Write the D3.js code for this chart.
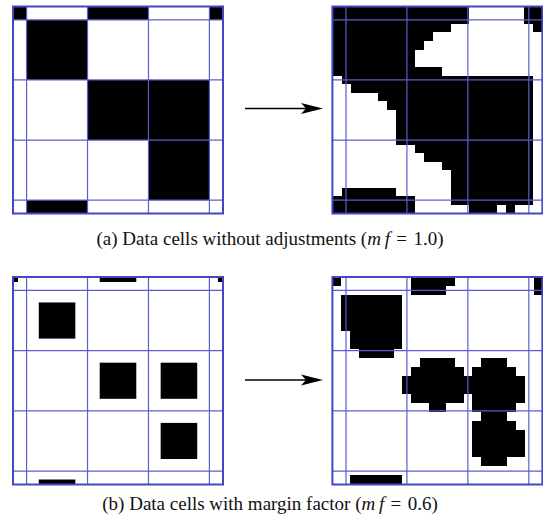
<!DOCTYPE html>
<html>
<head>
<meta charset="utf-8">
<script src="https://cdn.jsdelivr.net/npm/d3@7"></script>
<style>
  body { margin: 0; background: #fff; }
  svg { display: block; }
</style>
</head>
<body>
<div id="vis"></div>
<script>
const WIDTH = 543;
const HEIGHT = 521;

// data cells seen through the window, outer ring only partly visible
const dataCells = [
  [1, 0, 1, 0, 1],
  [0, 1, 0, 0, 0],
  [0, 0, 1, 1, 0],
  [0, 0, 0, 1, 0],
  [0, 1, 0, 0, 0],
];
const marginFactors = [1.0, 0.6];
const captionLabels = ["(a) Data cells without adjustments (", "(b) Data cells with margin factor ("];
const captionValues = ["1.0", "0.6"];

// rendered result, "#" = black pixel
const rasterA = [
  "###############......##",
  "###############......##",
  "#############.........#",
  "###########............",
  "##########.............",
  "#########..............",
  "#########..............",
  "############...........",
  ".#####################.",
  "..####################.",
  ".....#################.",
  "......################.",
  ".......###############.",
  ".......###############.",
  ".......###############.",
  ".......###############.",
  ".........#############.",
  "..........############.",
  "............##########.",
  ".............#########.",
  ".............#########.",
  ".######......#########.",
  "#########....#########.",
  "#########......###.#...",
];
const rasterB = [
  "#........#####.........#",
  ".........####..........#",
  ".#######................",
  ".#######................",
  ".#######................",
  ".#######................",
  "..######................",
  "..######................",
  "...####.................",
  "..........####...###....",
  ".........######.#####...",
  "........##############..",
  "........##############..",
  ".........######.######..",
  "...........##...#####...",
  ".................###....",
  "................#####...",
  "................######..",
  "................######..",
  "................######..",
  ".................###....",
  "........................",
  "..######................",
];
const rasters = [rasterA, rasterB];

// cell borders in grid units (outer ring is narrower)
const cellEdges = [-0.7, 0, 1, 2, 3, 3.7];
const VIEW = [-0.223, 3.223];
const gridLines = [0, 1, 2, 3];

const panelX = [[13, 223], [332.4, 542.4]];
const panelY = [[6.5, 213.5], [277, 484.5]];
const arrowY = [108.5, 380];
const captionY = [244.5, 509.5];

const GRID = "#5c5cd2";
const FRAME = "#4646c2";

const SVG = d3.select("#vis").append("svg")
  .attr("width", WIDTH)
  .attr("height", HEIGHT);

function drawGrid(g, x, y) {
  g.append("g")
    .selectAll("line")
    .data(gridLines)
    .join("line")
    .attr("x1", d => x(d)).attr("x2", d => x(d))
    .attr("y1", y(VIEW[0])).attr("y2", y(VIEW[1]))
    .attr("stroke", GRID)
    .attr("stroke-width", 1.2);
  g.append("g")
    .selectAll("line")
    .data(gridLines)
    .join("line")
    .attr("y1", d => y(d)).attr("y2", d => y(d))
    .attr("x1", x(VIEW[0])).attr("x2", x(VIEW[1]))
    .attr("stroke", GRID)
    .attr("stroke-width", 1.2);
  g.append("rect")
    .attr("x", x(VIEW[0]))
    .attr("y", y(VIEW[0]))
    .attr("width", x(VIEW[1]) - x(VIEW[0]))
    .attr("height", y(VIEW[1]) - y(VIEW[0]))
    .attr("fill", "none")
    .attr("stroke", FRAME)
    .attr("stroke-width", 2);
}

const clamp = v => Math.max(VIEW[0], Math.min(VIEW[1], v));

marginFactors.forEach((mf, i) => {
  const x = d3.scaleLinear().domain(VIEW).range(panelX[0]);
  const y = d3.scaleLinear().domain(VIEW).range(panelY[i]);

  // left: data cells shrunk by the margin factor
  const cells = [];
  dataCells.forEach((row, r) => row.forEach((v, c) => {
    if (!v) return;
    const cx = (cellEdges[c] + cellEdges[c + 1]) / 2;
    const cy = (cellEdges[r] + cellEdges[r + 1]) / 2;
    const hw = mf * (cellEdges[c + 1] - cellEdges[c]) / 2;
    const hh = mf * (cellEdges[r + 1] - cellEdges[r]) / 2;
    cells.push({ x0: clamp(cx - hw), x1: clamp(cx + hw), y0: clamp(cy - hh), y1: clamp(cy + hh) });
  }));

  const left = SVG.append("g");
  left.selectAll("rect")
    .data(cells.filter(d => d.x1 > d.x0 && d.y1 > d.y0))
    .join("rect")
    .attr("x", d => x(d.x0))
    .attr("y", d => y(d.y0))
    .attr("width", d => x(d.x1) - x(d.x0))
    .attr("height", d => y(d.y1) - y(d.y0))
    .attr("fill", "black");
  drawGrid(left, x, y);

  // right: pixel raster
  const raster = rasters[i];
  const xb = d3.scaleBand().domain(d3.range(raster[0].length)).range(panelX[1]);
  const yb = d3.scaleBand().domain(d3.range(raster.length)).range(panelY[i]);
  const pix = [];
  raster.forEach((row, r) => row.split("").forEach((ch, c) => {
    if (ch === "#") pix.push({ r, c });
  }));
  const right = SVG.append("g");
  right.selectAll("rect")
    .data(pix)
    .join("rect")
    .attr("x", d => xb(d.c))
    .attr("y", d => yb(d.r))
    .attr("width", xb.bandwidth())
    .attr("height", yb.bandwidth())
    .attr("fill", "black")
    .attr("shape-rendering", "crispEdges");
  const xr = d3.scaleLinear().domain(VIEW).range(panelX[1]);
  drawGrid(right, xr, y);

  // arrow
  const tip = 323;
  SVG.append("line")
    .attr("x1", 245).attr("x2", tip - 12)
    .attr("y1", arrowY[i]).attr("y2", arrowY[i])
    .attr("stroke", "black")
    .attr("stroke-width", 1.6);
  SVG.append("path")
    .attr("d", `M${tip},${arrowY[i]} L${tip - 22},${arrowY[i] - 5.5} L${tip - 17},${arrowY[i]} L${tip - 22},${arrowY[i] + 5.5} Z`)
    .attr("fill", "black");

  // caption
  const t = SVG.append("text")
    .attr("x", 270)
    .attr("y", captionY[i])
    .attr("text-anchor", "middle")
    .attr("font-family", "'Liberation Serif', 'Times New Roman', serif")
    .attr("font-size", 19)
    .attr("fill", "#111");
  t.append("tspan").text(captionLabels[i]);
  t.append("tspan").attr("font-style", "italic").text("m\u2009f");
  t.append("tspan").text("\u2004=\u2004" + captionValues[i] + ")");
});
</script>
</body>
</html>
